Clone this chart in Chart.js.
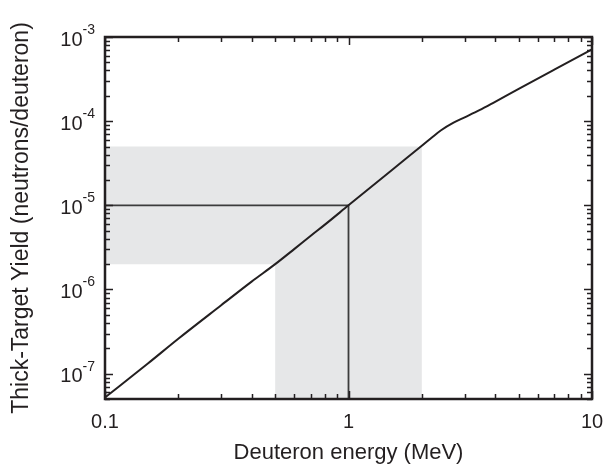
<!DOCTYPE html>
<html>
<head>
<meta charset="utf-8">
<script src="https://cdn.jsdelivr.net/npm/chart.js@4"></script>
<style>
  html, body { margin: 0; padding: 0; background: #fff; }
  #wrap { width: 605px; height: 470px; position: relative; }
</style>
</head>
<body>
<div id="wrap"><canvas id="yieldChart"></canvas></div>
<script>
// Thick-target yield curve
const energy = [0.1, 0.15, 0.2, 0.3, 0.4, 0.5, 0.6, 0.7, 0.8, 1, 1.5, 2, 2.2, 2.4, 2.7, 3, 3.45, 4, 5, 7, 10];
const yieldVals = [5.2e-8, 1.32e-7, 2.6e-7, 6.5e-7, 1.24e-6, 2.0e-6, 3.04e-6, 4.35e-6, 5.9e-6, 1.0e-5,
                   2.6e-5, 5.1e-5, 6.4e-5, 7.8e-5, 9.6e-5, 1.11e-4, 1.35e-4, 1.7e-4, 2.42e-4, 4.1e-4, 7.15e-4];

// shaded region (L-shape) corners
const shadeX = [0.1, 0.1, 2, 2, 0.5, 0.5, 0.1];
const shadeY = [2e-6, 5e-5, 5e-5, 5e-8, 5e-8, 2e-6, 2e-6];

// guide lines at 1 MeV
const guideX = [0.1, 1, 1];
const guideY = [1e-5, 1e-5, 5e-8];

const xTickLabels = ['0.1', '1', '10'];
const yExponents = [-7, -6, -5, -4, -3];

const xMin = 0.1, xMax = 10, yMin = 5e-8, yMax = 1e-3;
const ink = '#231f20';
const fontFamily = '"Liberation Sans", Arial, sans-serif';

const toPts = (xs, ys) => xs.map((x, i) => ({ x: x, y: ys[i] }));

// inward ticks, frame and superscript y labels
const framePlugin = {
  id: 'frame',
  afterDraw(chart) {
    const ctx = chart.ctx;
    const a = chart.chartArea;
    const xs = chart.scales.x, ys = chart.scales.y;
    ctx.save();
    ctx.strokeStyle = ink;
    ctx.lineWidth = 1.5;
    // x ticks
    for (let e = -1; e <= 1; e++) {
      for (let k = 1; k <= 9; k++) {
        const v = k * Math.pow(10, e);
        if (v < xMin * 0.999 || v > xMax * 1.001) continue;
        const px = Math.round(xs.getPixelForValue(v)) + 0.5;
        const len = k === 1 ? 8 : 5;
        ctx.beginPath();
        ctx.moveTo(px, a.bottom); ctx.lineTo(px, a.bottom - len);
        ctx.moveTo(px, a.top); ctx.lineTo(px, a.top + len);
        ctx.stroke();
      }
    }
    // y ticks
    for (let e = -8; e <= -3; e++) {
      for (let k = 1; k <= 9; k++) {
        const v = k * Math.pow(10, e);
        if (v < yMin * 0.999 || v > yMax * 1.001) continue;
        const py = Math.round(ys.getPixelForValue(v)) + 0.5;
        const len = k === 1 ? 8 : 5;
        ctx.beginPath();
        ctx.moveTo(a.left, py); ctx.lineTo(a.left + len, py);
        ctx.moveTo(a.right, py); ctx.lineTo(a.right - len, py);
        ctx.stroke();
      }
    }
    // frame
    ctx.lineWidth = 2.5;
    ctx.strokeRect(a.left, a.top, a.right - a.left, a.bottom - a.top);

    // y labels: 10 with superscript exponent
    ctx.fillStyle = ink;
    const rightEdge = 95;
    yExponents.forEach(ex => {
      const py = ys.getPixelForValue(Math.pow(10, ex));
      const sup = String(ex);
      ctx.font = '14px ' + fontFamily;
      const supW = ctx.measureText(sup).width;
      ctx.textAlign = 'left';
      ctx.textBaseline = 'alphabetic';
      ctx.fillText(sup, rightEdge - supW, py - 3);
      ctx.font = '20px ' + fontFamily;
      ctx.textAlign = 'right';
      ctx.textBaseline = 'middle';
      ctx.fillText('10', rightEdge - supW, py + 3);
    });
    ctx.restore();
  }
};

const ctx = document.getElementById('yieldChart').getContext('2d');
new Chart(ctx, {
  type: 'scatter',
  data: {
    datasets: [
      {
        data: toPts(shadeX, shadeY),
        showLine: true,
        fill: 'shape',
        backgroundColor: '#e6e7e8',
        borderWidth: 0,
        pointRadius: 0,
        order: 3
      },
      {
        data: toPts(guideX, guideY),
        showLine: true,
        borderColor: '#3c3c3c',
        borderWidth: 1.8,
        pointRadius: 0,
        order: 2
      },
      {
        data: toPts(energy, yieldVals),
        showLine: true,
        borderColor: ink,
        borderWidth: 2,
        pointRadius: 0,
        cubicInterpolationMode: 'monotone',
        order: 1
      }
    ]
  },
  options: {
    responsive: true,
    maintainAspectRatio: false,
    animation: false,
    layout: { padding: { top: 37, right: 13, left: 0, bottom: 0 } },
    plugins: { legend: { display: false }, tooltip: { enabled: false } },
    scales: {
      x: {
        type: 'logarithmic',
        min: xMin,
        max: xMax,
        grid: { display: false, drawTicks: false },
        border: { display: false },
        afterFit: s => { s.height = 71; s.paddingLeft = 0; s.paddingRight = 0; },
        afterBuildTicks: s => { s.ticks = xTickLabels.map(t => ({ value: parseFloat(t) })); },
        ticks: {
          autoSkip: false,
          maxRotation: 0,
          padding: 11,
          color: ink,
          font: { family: fontFamily, size: 20 },
          callback: v => xTickLabels.find(t => parseFloat(t) === v) || ''
        },
        title: {
          display: true,
          text: 'Deuteron energy (MeV)',
          color: ink,
          font: { family: fontFamily, size: 22 },
          padding: { top: 4 }
        }
      },
      y: {
        type: 'logarithmic',
        min: yMin,
        max: yMax,
        grid: { display: false, drawTicks: false },
        border: { display: false },
        afterFit: s => { s.width = 105; s.paddingTop = 0; s.paddingBottom = 0; },
        ticks: { display: false },
        title: {
          display: true,
          text: 'Thick-Target Yield (neutrons/deuteron)',
          color: ink,
          font: { family: fontFamily, size: 23 },
          padding: { top: 8, bottom: 0 }
        }
      }
    }
  },
  plugins: [framePlugin]
});
</script>
</body>
</html>
